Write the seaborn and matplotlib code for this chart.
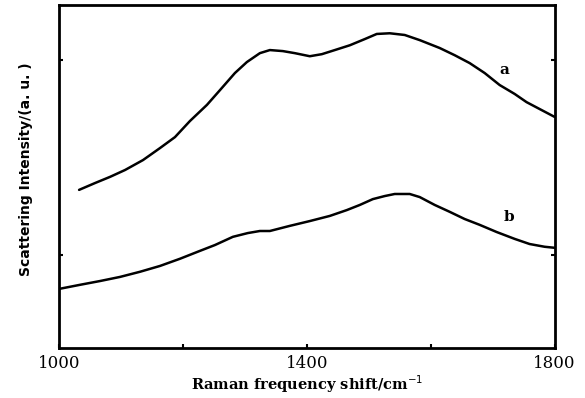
import matplotlib
matplotlib.use("Agg")
import matplotlib.pyplot as plt
import seaborn as sns
import pandas as pd

# Raman spectra (wavenumber in cm^-1, intensity in arbitrary units)
shift_a = [1032.3, 1058.1, 1082.3, 1106.5, 1135.5, 1162.9, 1187.1, 1211.3, 1238.7,
           1259.7, 1283.9, 1303.2, 1324.2, 1340.3, 1361.3, 1380.6, 1404.8, 1424.2,
           1445.2, 1469.4, 1493.5, 1512.9, 1533.9, 1558.1, 1582.3, 1614.5, 1638.7,
           1662.9, 1687.1, 1711.3, 1735.5, 1754.8, 1775.8, 1800.0]
intensity_a = [4.61, 4.81, 4.99, 5.19, 5.48, 5.83, 6.15, 6.62, 7.09,
               7.52, 8.02, 8.34, 8.60, 8.69, 8.66, 8.60, 8.51, 8.57,
               8.69, 8.83, 9.01, 9.16, 9.18, 9.13, 8.98, 8.75, 8.54,
               8.31, 8.02, 7.67, 7.41, 7.17, 6.97, 6.74]

shift_b = [1000.0, 1033.9, 1066.1, 1098.4, 1130.6, 1162.9, 1195.2, 1227.4, 1251.6,
           1280.6, 1304.8, 1324.2, 1340.3, 1372.6, 1404.8, 1437.1, 1464.5, 1485.5,
           1506.5, 1525.8, 1541.9, 1566.1, 1582.3, 1606.5, 1630.6, 1654.8, 1679.0,
           1706.5, 1735.5, 1759.7, 1783.9, 1800.0]
intensity_b = [1.72, 1.84, 1.95, 2.07, 2.22, 2.39, 2.60, 2.83, 3.00,
               3.24, 3.35, 3.41, 3.41, 3.56, 3.70, 3.85, 4.02, 4.17,
               4.34, 4.43, 4.49, 4.49, 4.40, 4.17, 3.97, 3.76, 3.59,
               3.38, 3.18, 3.03, 2.95, 2.92]

x_ticks = [1000, 1200, 1400, 1600, 1800]
x_tick_labels = ["1000", "", "1400", "", "1800"]
y_ticks = [2.71, 8.40]

df = pd.concat([
    pd.DataFrame({"shift": shift_a, "intensity": intensity_a, "sample": "a"}),
    pd.DataFrame({"shift": shift_b, "intensity": intensity_b, "sample": "b"}),
])

sns.set_theme(style="white")
plt.rcParams["font.family"] = ["DejaVu Serif"]
plt.rcParams["text.color"] = "black"
plt.rcParams["axes.labelcolor"] = "black"
plt.rcParams["xtick.color"] = "black"
plt.rcParams["ytick.color"] = "black"

fig, ax = plt.subplots(figsize=(5.85, 3.98), dpi=100)
fig.subplots_adjust(left=0.101, right=0.948, top=0.987, bottom=0.126)

sns.lineplot(data=df, x="shift", y="intensity", units="sample", estimator=None,
             color="black", linewidth=1.8, ax=ax, sort=False)
for line in ax.lines:
    line.set_solid_joinstyle("round")
    line.set_solid_capstyle("round")

ax.set_xlim(1000, 1800)
ax.set_ylim(0, 10)
ax.set_xticks(x_ticks)
ax.set_xticklabels(x_tick_labels, fontsize=12, fontfamily="DejaVu Serif")
ax.set_yticks(y_ticks)
ax.set_yticklabels([])
ax.tick_params(direction="in", length=3, width=1.5, color="black",
               top=False, right=True, left=True, bottom=True, pad=5)

for s in ax.spines.values():
    s.set_visible(True)
    s.set_color("black")
    s.set_linewidth(2)

ax.set_xlabel("Raman frequency shift/cm$^{-1}$", fontsize=10.5, fontweight="bold",
              fontfamily="DejaVu Serif", labelpad=1)
ax.set_ylabel("Scattering Intensity/(a. u. )", fontsize=10, fontweight="bold",
              fontfamily="DejaVu Sans")
ax.yaxis.set_label_coords(-0.052, 0.52)

ax.text(1719, 8.1, "a", fontsize=11, fontweight="bold", ha="center", va="center")
ax.text(1727, 3.82, "b", fontsize=11, fontweight="bold", ha="center", va="center")

fig.savefig("out.png", dpi=100, facecolor="white")
